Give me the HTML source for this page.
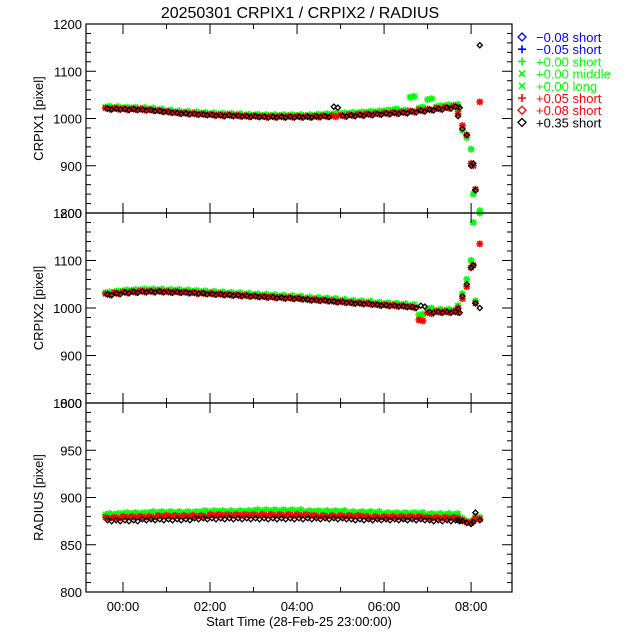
<!DOCTYPE html>
<html><head><meta charset="utf-8"><style>body{margin:0;background:#fff}svg{display:block;font-family:"Liberation Sans","DejaVu Sans",sans-serif}</style></head>
<body>
<svg id="c" width="640" height="640" viewBox="0 0 640 640"></svg>
<script>
const times=[-0.4,-0.2,0,0.2,0.4,0.6,0.8,1,1.2,1.4,1.6,1.8,2,2.2,2.4,2.6,2.8,3,3.2,3.4,3.6,3.8,4,4.2,4.4,4.6,4.8,5,5.2,5.4,5.6,5.8,6,6.2,6.4,6.6,6.8,7,7.2,7.4,7.6];
const tailTimes=[7.7,7.8,7.9,8.0,8.05,8.1,8.2];
const p1Red=[1022,1022,1021,1021,1020,1019,1017,1015,1013,1012,1011,1010,1009,1008,1008,1007,1006,1006,1005,1005,1005,1005,1005,1005,1005,1006,1006,1007,1008,1009,1010,1011,1012,1013,1014,1016,1018,1020,1022,1024,1026];
const p1Green=[1024,1023,1022,1022,1021,1020,1018,1016,1014,1013,1012,1011,1010,1009,1009,1008,1007,1007,1006,1006,1006,1006,1006,1006,1007,1008,1009,1010,1011,1012,1013,1014,1016,1018,1016,1045,1022,1040,1025,1027,1028];
const p1Black=[1021,1021,1020,1020,1019,1018,1016,1014,1012,1011,1010,1009,1008,1007,1007,1006,1005,1005,1004,1004,1004,1004,1004,1004,1005,1005,1025,1006,1007,1008,1009,1010,1011,1012,1013,1015,1017,1019,1021,1023,1025];
const p1RedTail=[1010,985,965,905,900,850,1035];
const p1GreenTail=[1015,975,960,935,840,850,805];
const p1BlackTail=[1005,978,965,900,905,848,1155];
const p2Red=[1030,1032,1034,1035,1036,1036,1036,1035,1035,1034,1033,1032,1031,1030,1029,1028,1027,1026,1025,1024,1023,1022,1021,1019,1018,1017,1015,1014,1012,1011,1010,1008,1007,1006,1005,1003,975,990,993,993,993];
const p2Green=[1032,1034,1036,1037,1038,1038,1038,1037,1037,1036,1035,1034,1033,1032,1031,1030,1029,1028,1027,1026,1025,1024,1023,1021,1020,1019,1018,1016,1014,1013,1012,1010,1009,1008,1007,1005,985,998,995,995,995];
const p2Black=[1029,1031,1033,1034,1035,1035,1035,1034,1034,1033,1032,1031,1030,1029,1028,1027,1026,1025,1024,1023,1022,1021,1020,1018,1017,1016,1014,1013,1011,1010,1009,1007,1006,1005,1004,1002,1005,992,992,992,992];
const p2RedTail=[1000,1020,1045,1085,1090,1010,1135];
const p2GreenTail=[1005,1030,1060,1100,1180,1015,1200];
const p2BlackTail=[998,1025,1050,1085,1090,1010,1000];
const p3Red=[879,879,880,880,880,880,881,881,881,881,881,881,882,882,882,882,882,882,882,882,882,882,882,882,881,881,881,881,881,881,880,880,880,880,880,880,880,879,879,879,879];
const p3Green=[882,882,883,883,883,884,884,884,884,884,884,885,885,885,885,885,885,886,886,886,886,886,886,885,885,885,885,885,884,884,884,884,883,883,883,883,883,882,882,882,882];
const p3Black=[876,876,876,876,877,877,877,877,877,877,878,878,878,878,878,878,878,878,878,878,878,878,878,878,878,878,878,878,877,877,877,877,877,877,877,877,877,876,876,876,876];
const p3RedTail=[878,876,874,873,875,878,877];
const p3GreenTail=[880,878,875,874,876,880,879];
const p3BlackTail=[876,875,873,872,874,884,876];
const legendLabels=["\u22120.08 short","\u22120.05 short","+0.00 short","+0.00 middle","+0.00 long","+0.05 short","+0.08 short","+0.35 short"];
const legendColors=["#0000ff","#0000ff","#00ff00","#00ff00","#00ff00","#ff0000","#ff0000","#000000"];
const legendSyms=["diamond","plus","plus","x","x","plus","diamond","diamond"];
const xTickLabels=["00:00","02:00","04:00","06:00","08:00"];
const xTickValues=[0,2,4,6,8];

const NS="http://www.w3.org/2000/svg",svg=document.getElementById('c');
function el(t,a,p){const e=document.createElementNS(NS,t);for(const k in a)e.setAttribute(k,a[k]);(p||svg).appendChild(e);return e;}
const X0=86,X1=512,T0=-0.85,T1=8.94;
const xs=t=>X0+(t-T0)/(T1-T0)*(X1-X0);
const panels=[
 {top:24,bot:213,min:800,max:1200,major:100,minor:20,label:"CRPIX1 [pixel]",ticks:[800,900,1000,1100,1200],d:[p1Green,p1Red,p1Black],tl:[p1GreenTail,p1RedTail,p1BlackTail],name:'crpix1'},
 {top:213,bot:403,min:800,max:1200,major:100,minor:20,label:"CRPIX2 [pixel]",ticks:[800,900,1000,1100,1200],d:[p2Green,p2Red,p2Black],tl:[p2GreenTail,p2RedTail,p2BlackTail],name:'crpix2'},
 {top:403,bot:592,min:800,max:1000,major:50,minor:10,label:"RADIUS [pixel]",ticks:[800,850,900,950,1000],d:[p3Green,p3Red,p3Black],tl:[p3GreenTail,p3RedTail,p3BlackTail],name:'radius'}];
function marker(g,x,y,sym,col,s){
 if(sym==='diamond'){return el('path',{d:`M${x} ${y-s}L${x+s} ${y}L${x} ${y+s}L${x-s} ${y}Z`,fill:'none',stroke:col,'stroke-width':1.3},g);}
 let d='';
 if(sym==='plus'||sym==='ast')d+=`M${x-s} ${y}H${x+s}M${x} ${y-s}V${y+s}`;
 if(sym==='x'||sym==='ast')d+=`M${x-s*.75} ${y-s*.75}L${x+s*.75} ${y+s*.75}M${x-s*.75} ${y+s*.75}L${x+s*.75} ${y-s*.75}`;
 return el('path',{d:d,stroke:col,'stroke-width':1.6,fill:'none'},g);
}
const t=el('text',{x:300,y:18,'font-size':16,'text-anchor':'middle'});t.textContent="20250301 CRPIX1 / CRPIX2 / RADIUS";

panels.forEach(p=>{
 const ys=v=>p.bot-(v-p.min)/(p.max-p.min)*(p.bot-p.top);
 const g=el('g',{});
 
 const cols=['#00ff00','#ff0000','#000000'],syms=['ast','ast','diamond'],sz=[3.5,3.5,2.6],dx=[0,0,2];
 p.d.forEach((arr,i)=>{const sg=el('g',{},g);
  arr.forEach((v,j)=>{marker(sg,xs(times[j])+dx[i],ys(v),syms[i],cols[i],sz[i]);marker(sg,xs(times[j])+4+dx[i],ys(v)+(i===0?-1:1),syms[i],cols[i],sz[i]);});
  p.tl[i].forEach((v,j)=>{const yy=ys(v);if(yy>=p.top-2&&yy<=p.bot+8)marker(sg,xs(tailTimes[j]),yy,syms[i],cols[i],sz[i]);});});
 el('rect',{x:X0,y:p.top,width:X1-X0,height:p.bot-p.top,fill:'none',stroke:'#000','stroke-width':1.2},g);
 for(let v=p.min;v<=p.max;v+=p.minor){const y=ys(v),L=(v-p.min)%p.major===0?10:5;
  el('line',{x1:X0,x2:X0+L,y1:y,y2:y,stroke:'#000'},g);el('line',{x1:X1,x2:X1-L,y1:y,y2:y,stroke:'#000'},g);}
 p.ticks.forEach(v=>{const e=el('text',{x:X0-4,y:ys(v)+5,'font-size':13,'text-anchor':'end'},g);e.textContent=v;});
 for(let h=0;h<=8;h+=1){const x=xs(h),L=h%2===0?10:5;
  el('line',{x1:x,x2:x,y1:p.bot,y2:p.bot-L,stroke:'#000'},g);el('line',{x1:x,x2:x,y1:p.top,y2:p.top+L,stroke:'#000'},g);}
 const yl=el('text',{x:0,y:0,'font-size':13,'text-anchor':'middle',transform:`translate(43 ${(p.top+p.bot)/2}) rotate(-90)`},g);
 yl.textContent=p.label;
});
xTickValues.forEach((h,i)=>{const e=el('text',{x:xs(h),y:611,'font-size':13,'text-anchor':'middle'});e.textContent=xTickLabels[i];
 });
const xt=el('text',{x:299,y:626,'font-size':13,'text-anchor':'middle'});xt.textContent="Start Time (28-Feb-25 23:00:00)";

const lg=el('g',{});
legendLabels.forEach((s,i)=>{const y=37+i*12.2;const eg=el('g',{},lg);
 
 marker(eg,522,y,legendSyms[i],legendColors[i],4);
 const e=el('text',{x:536,y:y+5,'font-size':13,fill:legendColors[i]},eg);e.textContent=s;});
</script>
</body></html>
